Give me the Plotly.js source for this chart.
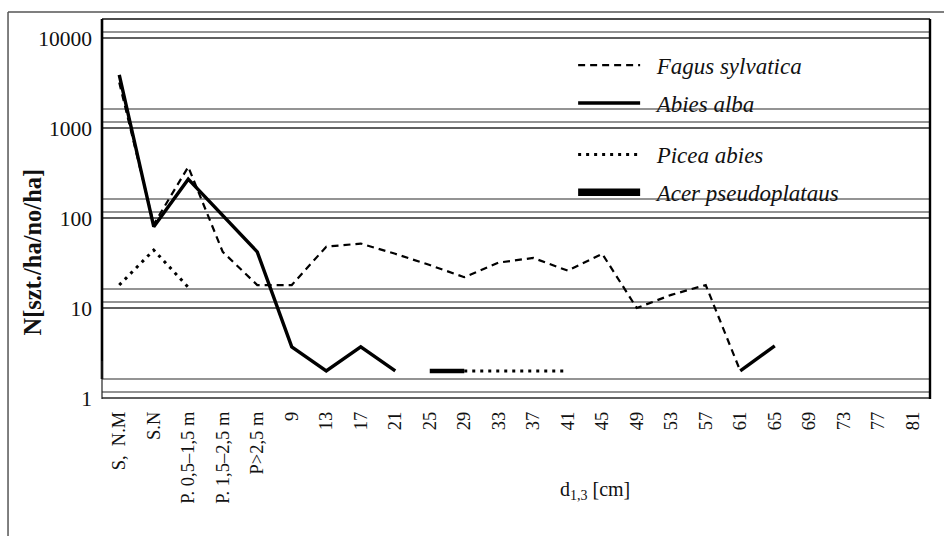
<!DOCTYPE html>
<html>
<head>
<meta charset="utf-8">
<script src="https://cdn.plot.ly/plotly-3.0.1.min.js"></script>
<style>
  html, body { margin: 0; padding: 0; background: #fff; }
  #chart { width: 944px; height: 536px; }
</style>
</head>
<body>
<div id="chart"></div>
<script>
// Categories (x axis)
const categories = ["S,  N.M", "S.N", "P. 0,5–1,5 m", "P. 1,5–2,5 m", "P>2,5 m",
  "9", "13", "17", "21", "25", "29", "33", "37", "41", "45", "49", "53", "57",
  "61", "65", "69", "73", "77", "81"];

// Series values, N [szt./ha]
const fagus  = [3200, 85, 370, 42, 18, 18, 48, 52, 40, 30, 22, 32, 36, 26, 40, 10, 14, 18,
  2, null, null, null, null, null];
const abies  = [3900, 80, 270, 108, 42, 3.7, 2, 3.7, 2, null, null, null, null, null, null, null, null, null,
  2, 3.8, null, null, null, null];
const picea  = [18, 44, 17, null, null, null, null, null, null, null, 2, 2, 2, 2, null, null, null, null,
  null, null, null, null, null, null];
const acer   = [null, null, null, null, null, null, null, null, null, 2, 2, null, null, null, null, null, null, null,
  null, null, null, null, null, null];

// Tick labels (y axis)
const yTickVals = [1, 10, 100, 1000, 10000];
const yTickText = ["1", "10", "100", "1000", "10000"];

const FONT = "Liberation Serif, Times New Roman, serif";
const PAD = "\u00a0\u00a0";

const traces = [
  {name: PAD + "Fagus sylvatica", x: categories, y: fagus, type: "scatter", mode: "lines",
   line: {color: "#000", width: 2.2, dash: "7px,5px"}, legend: "legend", legendgroup: "fagus"},
  {name: PAD + "Abies alba", x: categories, y: abies, type: "scatter", mode: "lines",
   line: {color: "#000", width: 3.4}, legend: "legend", legendgroup: "abies"},
  {name: PAD + "Picea abies", x: categories, y: picea, type: "scatter", mode: "lines",
   line: {color: "#000", width: 3, dash: "3px,5px"}, legend: "legend2", legendgroup: "picea"},
  {name: PAD + "Acer pseudoplataus", x: categories, y: acer, type: "scatter", mode: "lines",
   line: {color: "#000", width: 4.5}, legend: "legend2", showlegend: false, legendgroup: "acer"},
  {name: PAD + "Acer pseudoplataus", x: [null], y: [null], type: "scatter", mode: "lines",
   line: {color: "#000", width: 7.5}, legend: "legend2", legendgroup: "acer", hoverinfo: "skip"}
];

// double/triple horizontal rules at each decade (background wall effect)
const decadeFactors = [1, 1.166, 1.626];
const shapes = [];
yTickVals.forEach(function (d) {
  decadeFactors.forEach(function (f) {
    if (d === 10000 && f === 1.626) return;
    shapes.push({type: "line", xref: "paper", yref: "y", x0: 0, x1: 1, y0: d * f, y1: d * f,
      line: {color: "#2a2a2a", width: f === 1 ? 1.6 : 1.2}, layer: "below"});
  });
});
// plot frame
shapes.push({type: "line", xref: "paper", yref: "paper", x0: 0, x1: 1, y0: 1, y1: 1,
  line: {color: "#111", width: 1.4}, layer: "below"});
shapes.push({type: "line", xref: "paper", yref: "y", x0: 0, x1: 0, y0: 1.626, y1: 16260,
  line: {color: "#000", width: 2.6}, layer: "below"});
shapes.push({type: "line", xref: "paper", yref: "paper", x0: 0, x1: 0, y0: 0, y1: 0.1,
  line: {color: "#222", width: 1.2}, layer: "below"});
shapes.push({type: "line", xref: "paper", yref: "paper", x0: 1, x1: 1, y0: 0, y1: 1,
  line: {color: "#000", width: 2.4}, layer: "below"});
// outer frame
shapes.push({type: "line", xref: "paper", yref: "paper", x0: -0.1135, x1: -0.1135, y0: -0.5, y1: 1.0184,
  line: {color: "#555", width: 1.5}});
shapes.push({type: "line", xref: "paper", yref: "paper", x0: -0.1135, x1: 1.02, y0: 1.0184, y1: 1.0184,
  line: {color: "#555", width: 1.5}});

const layout = {
  width: 944, height: 536,
  margin: {l: 102, r: 14, t: 19, b: 137},
  paper_bgcolor: "#fff", plot_bgcolor: "rgba(0,0,0,0)",
  font: {family: FONT, color: "#111", size: 18},
  xaxis: {
    type: "category", range: [-0.5, 23.5], tickangle: -90,
    showgrid: false, zeroline: false, showline: false, ticks: "",
    tickfont: {family: FONT, size: 18.5, color: "#111"}, ticklabelstandoff: 8
  },
  yaxis: {
    type: "log", range: [-0.011, 4.211], tickvals: yTickVals, ticktext: yTickText,
    showgrid: false, zeroline: false, showline: false, ticks: "",
    tickfont: {family: FONT, size: 21.5, color: "#111"}, ticklabelstandoff: 9
  },
  legend: {
    x: 0.569, y: 0.935, xanchor: "left", yanchor: "top", bgcolor: "rgba(0,0,0,0)",
    borderwidth: 0, itemwidth: 62, tracegroupgap: 5,
    font: {family: FONT, size: 23, color: "#111", style: "italic"}
  },
  legend2: {
    x: 0.569, y: 0.7, xanchor: "left", yanchor: "top", bgcolor: "rgba(0,0,0,0)",
    borderwidth: 0, itemwidth: 62, tracegroupgap: 5,
    font: {family: FONT, size: 23, color: "#111", style: "italic"}
  },
  showlegend: true,
  shapes: shapes,
  annotations: [
    {text: "<b>N[szt./ha/no/ha]</b>", xref: "paper", yref: "paper", x: -0.0851, y: 0.3868,
     textangle: -90, showarrow: false, xanchor: "center", yanchor: "middle",
     font: {family: FONT, size: 24.5, color: "#111"}},
    {text: "d<sub>1,3</sub> [cm]", xref: "paper", yref: "paper", x: 0.5954, y: -0.2395,
     showarrow: false, xanchor: "center", yanchor: "middle",
     font: {family: FONT, size: 20, color: "#111"}}
  ]
};

Plotly.newPlot("chart", traces, layout, {displayModeBar: false, staticPlot: true});
</script>
</body>
</html>
